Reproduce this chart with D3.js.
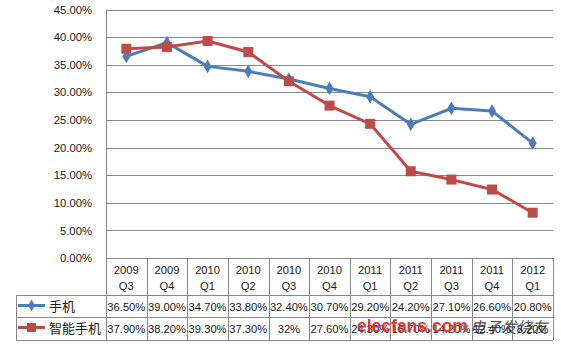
<!DOCTYPE html>
<html><head><meta charset="utf-8">
<script src="https://cdn.jsdelivr.net/npm/d3@7"></script>
<style>body{margin:0;background:#fff}svg{display:block}text{font-family:"Liberation Sans",Arial,sans-serif;fill:#1a1a1a}</style>
</head><body><svg id="c" width="561" height="344"></svg>
<script>
const years = ["2009","2009","2010","2010","2010","2010","2011","2011","2011","2011","2012"];
const quarters = ["Q3","Q4","Q1","Q2","Q3","Q4","Q1","Q2","Q3","Q4","Q1"];
const categories = years.map((y,i)=>y+" "+quarters[i]);
const phone = [36.5,39.0,34.7,33.8,32.4,30.7,29.2,24.2,27.1,26.6,20.8];
const smart = [37.9,38.2,39.3,37.3,32.0,27.6,24.3,15.7,14.2,12.4,8.2];
const phoneLabels = ["36.50%","39.00%","34.70%","33.80%","32.40%","30.70%","29.20%","24.20%","27.10%","26.60%","20.80%"];
const smartLabels = ["37.90%","38.20%","39.30%","37.30%","32%","27.60%","24.30%","15.70%","14.20%","12.40%","8.20%"];
const yTicks = [0,5,10,15,20,25,30,35,40,45];
const seriesNames = ["手机","智能手机"];
const colors = ["#4A7EBB","#BE4B48"];

const svg = d3.select("#c");
const L=106,R=553,T=9.5,B=258;
const x = d3.scaleBand().domain(categories).range([L,R]);
const y = d3.scaleLinear().domain([0,45]).range([B,T]);
const grid="#878787";

// gridlines
svg.append("g").selectAll("line").data(yTicks).join("line")
 .attr("x1",L).attr("x2",R).attr("y1",d=>Math.round(y(d))+0.5).attr("y2",d=>Math.round(y(d))+0.5)
 .attr("stroke",grid).attr("stroke-width",1);
// y axis labels
const ya = d3.axisLeft(y).tickValues(yTicks).tickSize(0).tickPadding(14).tickFormat(d=>d.toFixed(2)+"%");
const yg = svg.append("g").attr("transform",`translate(${L},0)`).call(ya);
yg.select(".domain").remove();
yg.selectAll("text").style("font-size","11.3px").attr("fill","#1a1a1a");

// table lines
const tl = svg.append("g").attr("stroke",grid).attr("stroke-width",1);
tl.append("line").attr("x1",L+0.5).attr("x2",L+0.5).attr("y1",T).attr("y2",340);
[295,317,340].forEach(v=>tl.append("line").attr("x1",16).attr("x2",R).attr("y1",v+0.5).attr("y2",v+0.5));
tl.append("line").attr("x1",16.5).attr("x2",16.5).attr("y1",295).attr("y2",340);
categories.forEach(c=>{
  const xe = Math.round(x(c)+x.bandwidth())+0.5;
  tl.append("line").attr("x1",xe).attr("x2",xe).attr("y1",B).attr("y2",340);
});
// header
const hg = svg.append("g").style("font-size","11.2px").attr("text-anchor","middle");
categories.forEach((c,i)=>{
  const cx = x(c)+x.bandwidth()/2;
  hg.append("text").attr("x",cx).attr("y",274).text(years[i]);
  hg.append("text").attr("x",cx).attr("y",289.5).text(quarters[i]);
});
// values rows
const vg = svg.append("g").style("font-size","11.2px").attr("text-anchor","middle");
[phoneLabels,smartLabels].forEach((arr,r)=>{
  arr.forEach((t,i)=>{
    vg.append("text").attr("x",x(categories[i])+x.bandwidth()/2).attr("y",r===0?310.5:333).text(t);
  });
});
// legend
[0,1].forEach(r=>{
  const cy = r===0?305.5:327.5;
  svg.append("line").attr("x1",18).attr("x2",45).attr("y1",cy).attr("y2",cy).attr("stroke",colors[r]).attr("stroke-width",3);
  if(r===0) svg.append("path").attr("d",d3.symbol(d3.symbolDiamond,40)()).attr("transform",`translate(31.5,${cy})`).attr("fill",colors[0]);
  else svg.append("rect").attr("x",27).attr("y",cy-4.5).attr("width",9).attr("height",9).attr("fill",colors[1]);
  svg.append("text").attr("x",49).attr("y",cy+5).style("font-size","13px").style("font-family","'Noto Sans CJK SC',sans-serif").text(seriesNames[r]);
});

// lines
const line = d3.line().x((d,i)=>x(categories[i])+x.bandwidth()/2).y(d=>y(d));
[phone,smart].forEach((s,k)=>{
  svg.append("path").datum(s).attr("d",line).attr("fill","none").attr("stroke",colors[k]).attr("stroke-width",3).attr("stroke-linejoin","round");
});
svg.append("g").selectAll("path").data(phone).join("path")
 .attr("d",d3.symbol(d3.symbolDiamond,55)()).attr("fill",colors[0])
 .attr("transform",(d,i)=>`translate(${x(categories[i])+x.bandwidth()/2},${y(d)})`);
svg.append("g").selectAll("rect").data(smart).join("rect")
 .attr("x",(d,i)=>x(categories[i])+x.bandwidth()/2-5).attr("y",d=>y(d)-5)
 .attr("width",10).attr("height",10).attr("fill",colors[1]);

// watermark
svg.append("text").attr("x",357).attr("y",332).style("font-size","17.5px").style("font-weight","bold")
 .style("fill","#e0261f").style("opacity",0.9).text("elecfans.com");
svg.append("text").attr("x",470).attr("y",333).style("font-size","15.5px").style("font-style","italic")
 .style("font-family","'Noto Sans CJK SC',sans-serif").style("fill","#333").style("opacity",0.85).text("电子发烧友");
</script></body></html>
